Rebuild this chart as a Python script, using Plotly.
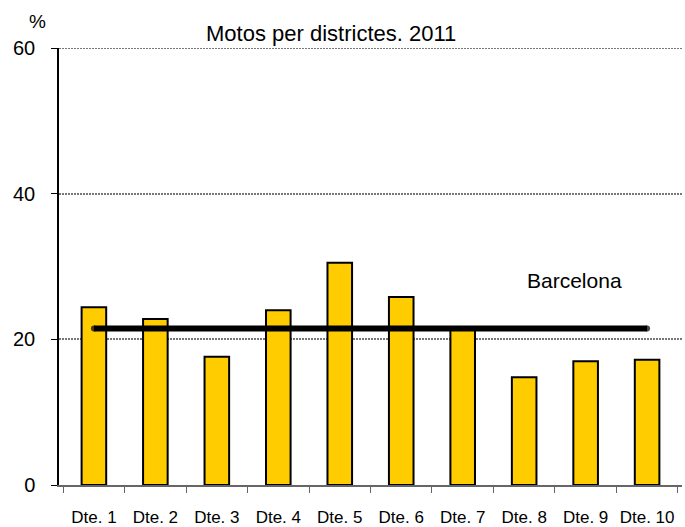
import plotly.graph_objects as go

# ── Data ───────────────────────────────────────────────────────────────────
districtes = ["Dte. 1", "Dte. 2", "Dte. 3", "Dte. 4", "Dte. 5",
              "Dte. 6", "Dte. 7", "Dte. 8", "Dte. 9", "Dte. 10"]
motos = [24.4, 22.8, 17.6, 24.0, 30.5, 25.8, 21.6, 14.8, 17.0, 17.2]
barcelona = [21.5] * len(districtes)
y_max = 60

YELLOW = "#FFCC00"
GRID = "#777"
FONT = "Arial, Liberation Sans, sans-serif"

fig = go.Figure()
fig.add_trace(go.Bar(
    x=districtes, y=motos, width=0.4,
    marker=dict(color=YELLOW, line=dict(color="black", width=2)),
))
# round caps on the reference line: small dots only at both ends
cap = [6] + [0] * (len(districtes) - 2) + [6]
fig.add_trace(go.Scatter(
    x=districtes, y=barcelona, mode="lines+markers",
    line=dict(color="black", width=6),
    marker=dict(size=cap, color="black", line=dict(width=0)),
))

# top gridline (plotly skips the one on the plot edge)
fig.add_shape(type="line", xref="paper", yref="y", x0=0, x1=1,
              y0=y_max, y1=y_max, line=dict(color=GRID, width=2, dash="2px,1px"))

fig.update_layout(
    width=685, height=527,
    paper_bgcolor="white", plot_bgcolor="white",
    font=dict(family=FONT, color="black"),
    showlegend=False,
    margin=dict(l=59, r=3, t=48, b=42),
    xaxis=dict(
        tickson="boundaries", ticks="outside", ticklen=6, tickcolor="#666",
        showline=True, linecolor="#666", linewidth=1.5, tickangle=0,
        automargin=False, showgrid=False, tickfont=dict(size=17),
        ticklabelstandoff=16,
    ),
    yaxis=dict(
        range=[0, y_max], dtick=20, ticks="outside", ticklen=6, tickcolor="black",
        showline=True, linecolor="black", linewidth=1.5, automargin=False,
        showgrid=True, gridcolor=GRID, gridwidth=2, griddash="2px,1px",
        zeroline=False, tickfont=dict(size=20), ticklabelstandoff=12,
    ),
    annotations=[
        dict(text="Motos per districtes. 2011", xref="paper", yref="paper",
             x=0.4366, y=1.034, showarrow=False, font=dict(size=22),
             xanchor="center", yanchor="middle"),
        dict(text="%", xref="paper", yref="paper", x=-0.034, y=1.06,
             showarrow=False, font=dict(size=19),
             xanchor="center", yanchor="middle"),
        dict(text="Barcelona", xref="paper", yref="paper", x=0.828, y=0.467,
             showarrow=False, font=dict(size=21),
             xanchor="center", yanchor="middle"),
    ],
)

# drop the browser's default body margin so the figure sits at the page corner
fig.write_html("out.html", config={"displayModeBar": False},
               post_script="document.body.style.margin='0';")
